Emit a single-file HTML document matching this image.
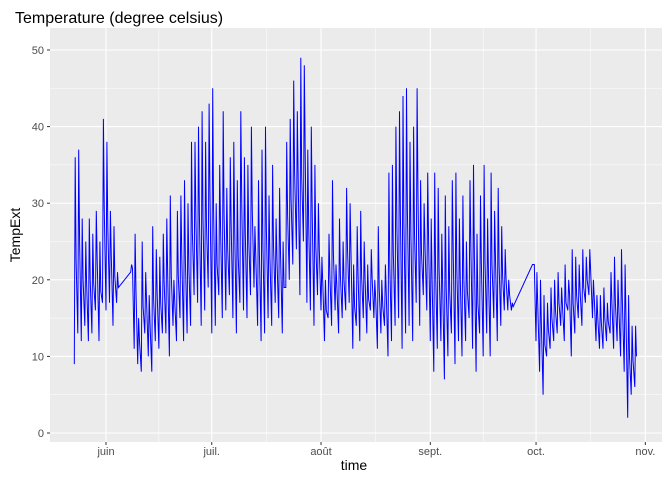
<!DOCTYPE html>
<html><head><meta charset="utf-8"><style>
body{margin:0;background:#fff;}
svg text{font-family:"Liberation Sans",sans-serif;}
</style></head><body>
<svg id="chart" width="672" height="480" xmlns="http://www.w3.org/2000/svg">
<rect width="672" height="480" fill="#fff"/>
<text x="15" y="23" font-size="16" fill="#000">Temperature (degree celsius)</text>
<rect x="50" y="28" width="612" height="414" fill="#ebebeb"/>
<g id="grid"></g>
<g id="axes"></g>
<path id="line" fill="none" stroke="#0000ff" stroke-width="1"/>
<text x="354" y="470" font-size="14" text-anchor="middle" fill="#000">time</text>
<text transform="translate(20,235) rotate(-90)" font-size="14" text-anchor="middle" fill="#000">TempExt</text>
</svg>
<script>
const days=[-9,-8,-7,-6,-5,-4,-3,-2,-1,0,1,2,3];
for(let d=7;d<=115;d++)days.push(d);
for(let d=121;d<=150;d++)days.push(d);
const tmax=[36,37,28,25,28,26,29,25,41,38,29,27,21,
22,26,15,25,21,18,27,24,23,26,28,31,20,29,31,33,30,38,38,40,42,38,43,
45,30,35,42,32,36,38,33,42,36,35,40,27,33,37,40,31,35,28,32,25,38,41,46,42,49,48,37,40,35,30,
23,20,26,33,22,28,25,32,30,22,27,29,25,22,24,20,27,20,22,34,35,40,42,44,45,38,40,45,33,30,34,
28,34,32,26,31,27,33,34,28,31,25,33,35,26,31,35,28,34,29,32,27,24,20,17,
22,21,20,18,17,19,20,21,19,22,20,24,23,22,24,23,24,20,18,18,19,17,21,23,20,24,22,18,14,14];
const tmin=[9,13,12,14,12,13,16,12,17,16,17,14,17,
21,11,9,8,13,10,8,12,11,13,13,10,14,12,15,12,13,14,18,17,14,16,19,
13,14,18,15,16,18,15,13,17,16,15,18,19,14,12,13,15,14,17,15,13,19,20,22,24,18,25,17,16,14,18,
16,12,15,14,16,13,15,16,17,11,14,12,15,13,16,15,11,13,14,10,12,14,15,11,13,14,12,17,14,18,16,
12,8,11,12,7,10,13,9,12,10,12,15,11,8,13,10,13,10,15,12,14,16,16,16,
22,12,8,5,10,11,12,13,14,12,16,10,13,15,14,17,18,15,12,11,11,12,13,11,12,10,8,2,5,6];
const yTicks=[0,10,20,30,40,50];
const monthLabels=["juin","juil.","août","sept.","oct.","nov."];
const monthDays=[0,30,61,92,122,153];
const NS="http://www.w3.org/2000/svg";
const xS=d=>106+d*3.525;
const yS=v=>433-v*7.66;
const grid=document.getElementById('grid'),axes=document.getElementById('axes');
function mk(tag,attrs,parent){const e=document.createElementNS(NS,tag);for(const k in attrs)e.setAttribute(k,attrs[k]);parent.appendChild(e);return e;}
for(let i=0;i<yTicks.length;i++){
  const y=yS(yTicks[i]);
  if(i<yTicks.length-1){const m=mk('line',{x1:50,x2:662,y1:yS(yTicks[i]+5),y2:yS(yTicks[i]+5),stroke:'#fff','stroke-width':0.5},grid);
  
  }
  const g=mk('line',{x1:50,x2:662,y1:y,y2:y,stroke:'#fff','stroke-width':1.1},grid);
  
  
  mk('line',{x1:47,x2:50,y1:y,y2:y,stroke:'#333'},axes);
  const t=mk('text',{x:44,y:y+4,'text-anchor':'end','font-size':11,fill:'#4d4d4d'},axes);t.textContent=yTicks[i];
  
  
}
for(let i=0;i<monthDays.length;i++){
  const x=xS(monthDays[i]);
  if(i>0){const mx=(x+xS(monthDays[i-1]))/2;const m=mk('line',{x1:mx,x2:mx,y1:28,y2:442,stroke:'#fff','stroke-width':0.5},grid);
  
  }
  const g=mk('line',{x1:x,x2:x,y1:28,y2:442,stroke:'#fff','stroke-width':1.1},grid);
  
  
  mk('line',{x1:x,x2:x,y1:442,y2:445,stroke:'#333'},axes);
  const t=mk('text',{x:x,y:455,'text-anchor':'middle','font-size':11,fill:'#4d4d4d'},axes);t.textContent=monthLabels[i];
  
  
}
let p='';
for(let i=0;i<days.length;i++){
  const x=xS(days[i]);
  const mid=(tmin[i]+tmax[i])/2;
  p+=(i?'L':'M')+x.toFixed(1)+','+yS(tmin[i]).toFixed(1)+'L'+(x+0.9).toFixed(1)+','+yS(tmax[i]).toFixed(1)+'L'+(x+1.8).toFixed(1)+','+yS(mid).toFixed(1);
}
document.getElementById('line').setAttribute('d',p);
</script>
</body></html>
